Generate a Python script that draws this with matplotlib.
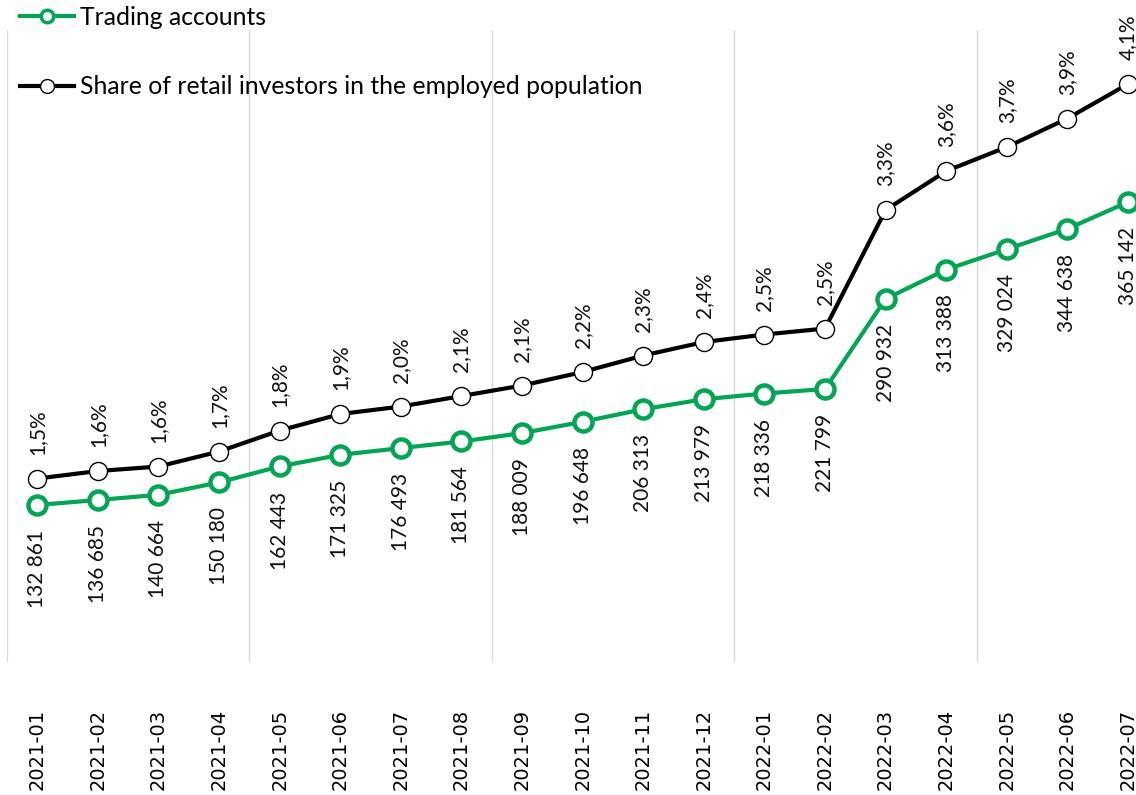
import matplotlib
matplotlib.use("Agg")
import matplotlib.pyplot as plt
from matplotlib.lines import Line2D
import numpy as np

months = ["2021-01", "2021-02", "2021-03", "2021-04", "2021-05", "2021-06",
          "2021-07", "2021-08", "2021-09", "2021-10", "2021-11", "2021-12",
          "2022-01", "2022-02", "2022-03", "2022-04", "2022-05", "2022-06",
          "2022-07"]
accounts = [132861, 136685, 140664, 150180, 162443, 171325, 176493, 181564,
            188009, 196648, 206313, 213979, 218336, 221799, 290932, 313388,
            329024, 344638, 365142]
# share of retail investors, % (labels on the chart are rounded)
share = [1.51, 1.56, 1.59, 1.69, 1.83, 1.94, 1.99, 2.06, 2.13, 2.22, 2.33,
         2.42, 2.47, 2.51, 3.30, 3.56, 3.72, 3.91, 4.14]

green = "#00a651"
x = np.arange(len(months))

fig = plt.figure(figsize=(11.36, 7.95), dpi=100)
ax = fig.add_axes([7 / 1136, 1 - 662 / 795, 1129 / 1136, 632 / 795])
ax2 = ax.twinx()

ax.set_xlim(-0.5, 18 + 8 / 60.6)
ax.set_ylim(12460, 497100)
ax2.set_ylim(0.287, 4.5)

# light vertical separators every 4 months
ax.set_xticks(np.arange(-0.5, len(months), 4), minor=True)
ax.grid(True, which="minor", axis="x", color="#d9d9d9", lw=1)
ax.tick_params(which="minor", length=0)

ax.plot(x, accounts, color=green, lw=3, marker="o", ms=13, mfc="white",
        mec=green, mew=3.2, zorder=3)
ax2.plot(x, share, color="black", lw=3, marker="o", ms=13, mfc="white",
         mec="black", mew=1.0, zorder=3)

for xi, v in zip(x, accounts):
    ax.annotate(f"{v:,}".replace(",", " "), (xi, v), xytext=(0, -18),
                textcoords="offset points", rotation=90, ha="center",
                va="top", fontsize=15, family="Lato", color="#111111")
for xi, v in zip(x, share):
    ax2.annotate(f"{v:.1f}%".replace(".", ","), (xi, v), xytext=(0, 17),
                 textcoords="offset points", rotation=90, ha="center",
                 va="bottom", fontsize=15, family="Lato", color="#111111")

ax.set_xticks(x)
ax.set_xticklabels(months, rotation=90, fontsize=14, va="top")
ax.tick_params(axis="x", length=0, pad=34)
ax.set_yticks([])
ax2.set_yticks([])
for a in (ax, ax2):
    for s in a.spines.values():
        s.set_visible(False)

handles = [
    Line2D([], [], color=green, lw=3, marker="o", ms=9, mfc="white",
           mec=green, mew=2.5),
    Line2D([], [], color="black", lw=3, marker="o", ms=10, mfc="white",
           mec="black", mew=1.0),
]
fig.legend(handles, ["Trading accounts",
                     "Share of retail investors in the employed population"],
           loc="upper left", bbox_to_anchor=(20 / 1136, 1 - 6 / 795),
           frameon=False, prop={"family": "Lato", "size": 17.8},
           handlelength=2.2, handletextpad=0.22, labelspacing=1.88,
           borderpad=0, borderaxespad=0)

fig.savefig("out.png", dpi=100)
